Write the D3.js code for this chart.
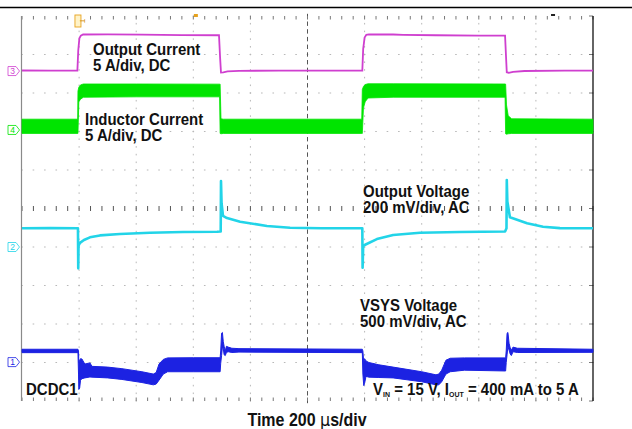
<!DOCTYPE html>
<html><head><meta charset="utf-8">
<script src="https://cdn.jsdelivr.net/npm/d3@7"></script>
<style>html,body{margin:0;padding:0;background:#fff;} svg{display:block;}</style>
</head><body>
<svg id="chart" width="632" height="429"></svg>
<script>
// ---------------- data ----------------
const timeDomain = [0, 2000];          // µs (10 div x 200 µs)
const divDomain = [-5, 5];             // screen divisions
const timeMajor = [0, 200, 400, 600, 800, 1000, 1200, 1400, 1600, 1800, 2000];
const divMajor = [-5, -4, -3, -2, -1, 0, 1, 2, 3, 4, 5];

// Output current, A  [t µs, A]
const outputCurrent = [
  [0,0.42],[100,0.40],[194,0.41],[197,3.0],[201,4.6],[206,4.95],[214,5.1],[300,5.12],[420,5.08],
  [560,5.02],[690,5.0],[694,2.0],[697,0.15],[705,0.18],[720,0.3],[760,0.38],[900,0.4],[1100,0.41],
  [1192,0.42],[1195,3.2],[1200,4.7],[1206,5.05],[1215,5.12],[1300,5.1],[1335,5.06],[1450,5.0],
  [1600,4.95],[1692,4.95],[1695,2.5],[1698,0.2],[1705,0.12],[1720,0.25],[1760,0.36],[1900,0.4],[2000,0.4]
];
// Inductor current ripple envelope, A  [t µs, low, high]
const inductorCurrent = [
  [0,-0.5,1.35],[195,-0.5,1.35],[196,-0.5,5.0],[199,3.6,5.5],[205,3.95,5.8],[215,4.2,5.92],
  [400,4.25,5.92],[692,4.25,5.9],[694,-0.5,5.9],[697,-0.55,1.4],[705,-0.5,1.35],[1190,-0.5,1.35],
  [1192,-0.5,5.2],[1196,2.8,5.6],[1202,3.6,5.85],[1212,4.1,5.95],[1300,4.2,5.95],[1692,4.2,5.92],
  [1694,-0.55,5.9],[1697,-0.6,3.2],[1703,-0.55,1.8],[1715,-0.5,1.4],[2000,-0.5,1.35]
];
// Output voltage (AC), mV  [t µs, mV]
const outputVoltage = [
  [0,0],[100,1],[196,0],[197,-208],[198,-90],[203,-76],[217,-61],[238,-47],[273,-37],[343,-30],
  [448,-23],[564,-19],[683,-18],[696,-17],[697,245],[699,130],[704,64],[718,53],[764,34],[858,12],
  [939,3],[1050,0],[1192,0],[1193,-205],[1195,-90],[1200,-87],[1243,-56],[1300,-35],[1394,-23],
  [1534,-19],[1692,-17],[1697,0],[1698,251],[1700,140],[1709,57],[1769,26],[1825,8],[1884,1],[2000,0]
];
// VSYS voltage (AC) envelope, mV  [t µs, low, high]
const vsysVoltage = [
  [0,-22,22],[196,-22,22],[198,-300,0],[199,-500,-150],[202,-480,-120],[205,-380,-100],
  [210,-360,-105],[220,-350,-170],[238,-338,-155],[245,-340,-200],[300,-350,-210],[350,-370,-230],
  [420,-410,-270],[460,-440,-300],[470,-430,-280],[480,-380,-170],[495,-300,-110],[510,-270,-90],
  [600,-270,-88],[694,-270,-88],[696,-160,0],[699,-60,230],[702,50,240],[705,30,120],[708,-50,60],
  [712,-60,0],[716,-20,60],[722,-10,50],[735,-20,35],[760,-15,30],[1192,-22,22],[1194,-300,0],
  [1197,-450,-150],[1200,-420,-100],[1205,-330,-130],[1215,-340,-150],[1250,-345,-180],
  [1300,-350,-210],[1400,-400,-270],[1450,-440,-310],[1460,-440,-300],[1470,-400,-250],
  [1485,-300,-120],[1500,-270,-95],[1550,-250,-90],[1694,-260,-90],[1696,-150,0],[1699,-50,230],
  [1702,60,240],[1706,10,100],[1710,-40,40],[1714,-60,10],[1720,-10,50],[1735,-20,35],[2000,-18,22]
];

const labelBlocks = [
  ["Output Current", "5 A/div, DC"],
  ["Inductor Current", "5 A/div, DC"],
  ["Output Voltage", "200 mV/div, AC"],
  ["VSYS Voltage", "500 mV/div, AC"],
  ["DCDC1"]
];
const xAxisTitle = ["Time 200 ", "µ", "s/div"];
const conditionParts = [["V",""],["IN","sub"],[" = 15 V, I",""],["OUT","sub"],[" = 400 mA to 5 A",""]];
const channelIds = ["3","4","2","1"];

// ---------------- layout / style ----------------
const svg = d3.select("#chart");
const L = 22, R = 593, T = 16, B = 401;
const x = d3.scaleLinear().domain(timeDomain).range([L, R]);
const yDiv = d3.scaleLinear().domain(divDomain).range([B, T]);

const chStyle = {
  "3": {color:"#cf3fcf", offsetDiv:3.5,   perDiv:5,   markerDiv:3.57},
  "4": {color:"#00e400", offsetDiv:2.05,  perDiv:5,   markerDiv:2.04},
  "2": {color:"#22d4e8", offsetDiv:-0.514,perDiv:200, markerDiv:-1.0},
  "1": {color:"#1c22e2", offsetDiv:-3.70, perDiv:500, markerDiv:-3.99}
};
const yCh = id => v => yDiv(chStyle[id].offsetDiv + v / chStyle[id].perDiv);

// top rule
svg.append("line").attr("x1",0).attr("x2",632).attr("y1",7.5).attr("y2",7.5)
  .attr("stroke","#000").attr("stroke-width",1.5);

const grid = svg.append("g");
const minorT = d3.range(timeDomain[0], timeDomain[1] + 1, (timeMajor[1]-timeMajor[0]) / 5);
const minorD = d3.range(0, 51).map(i => divDomain[0] + i * 0.2);
// dotted vertical grid lines
timeMajor.filter(t => t !== 0 && t !== 1000 && t !== 2000).forEach(t => {
  minorD.forEach(d => grid.append("rect").attr("x", x(t)-0.5).attr("y", yDiv(d)-0.8)
    .attr("width",1).attr("height",1.6).attr("fill","#b8b8b8"));
});
// dotted horizontal grid lines
divMajor.filter(d => d !== 0 && d !== -5 && d !== 5).forEach(d => {
  minorT.forEach(t => grid.append("rect").attr("x", x(t)-0.8).attr("y", yDiv(d)-0.5)
    .attr("width",1.6).attr("height",1).attr("fill","#b8b8b8"));
});
// center horizontal ticks
minorT.forEach(t => grid.append("line").attr("x1",x(t)).attr("x2",x(t))
  .attr("y1",yDiv(0)-2.5).attr("y2",yDiv(0)+2.5).attr("stroke","#555").attr("stroke-width",1));
// center vertical dashes
minorD.forEach(d => grid.append("line").attr("x1",x(1000)).attr("x2",x(1000))
  .attr("y1",yDiv(d)-2.2).attr("y2",yDiv(d)+2.2).attr("stroke","#555").attr("stroke-width",1));
// top/bottom edge ticks
minorT.forEach(t => {
  grid.append("line").attr("x1",x(t)).attr("x2",x(t)).attr("y1",T).attr("y2",T+3.5)
    .attr("stroke","#777").attr("stroke-width",1);
  grid.append("line").attr("x1",x(t)).attr("x2",x(t)).attr("y1",B-3.5).attr("y2",B)
    .attr("stroke","#777").attr("stroke-width",1);
});
// right edge ticks
divMajor.forEach(d => grid.append("line").attr("x1",R-4).attr("x2",R)
  .attr("y1",yDiv(d)).attr("y2",yDiv(d)).attr("stroke","#777"));
// borders
grid.append("line").attr("x1",L-0.5).attr("x2",L-0.5).attr("y1",T).attr("y2",B)
  .attr("stroke","#8a8a8a").attr("stroke-width",1.2);
grid.append("line").attr("x1",R).attr("x2",R).attr("y1",T).attr("y2",B)
  .attr("stroke","#111").attr("stroke-width",1.3);

// trigger markers
svg.append("rect").attr("x",x(196)-3).attr("y",T-1).attr("width",6).attr("height",12)
  .attr("fill","#fff3c8").attr("stroke","#e6a21e").attr("stroke-width",0.9);
svg.append("text").attr("transform",`translate(${x(196)+2.5},${T+5}) rotate(90)`)
  .attr("text-anchor","middle").attr("font-family","Liberation Sans, Arial")
  .attr("font-size",7).attr("fill","#d08a00").text("T");
svg.append("rect").attr("x",x(609)-2).attr("y",T-2).attr("width",4).attr("height",3).attr("fill","#e6a21e");
svg.append("rect").attr("x",x(1860)-2).attr("y",T-2).attr("width",4).attr("height",2).attr("fill","#222");

// traces
const traces = svg.append("g");
traces.append("path").datum(inductorCurrent)
  .attr("d", d3.area().x(d=>x(d[0])).y0(d=>yCh("4")(d[1])).y1(d=>yCh("4")(d[2])))
  .attr("fill", chStyle["4"].color).attr("stroke", chStyle["4"].color).attr("stroke-width",0.8);
traces.append("path").datum(outputCurrent)
  .attr("d", d3.line().x(d=>x(d[0])).y(d=>yCh("3")(d[1])))
  .attr("fill","none").attr("stroke", chStyle["3"].color).attr("stroke-width",1.8);
traces.append("path").datum(outputVoltage)
  .attr("d", d3.line().x(d=>x(d[0])).y(d=>yCh("2")(d[1])))
  .attr("fill","none").attr("stroke", chStyle["2"].color).attr("stroke-width",2.6)
  .attr("stroke-linejoin","round");
traces.append("path").datum(vsysVoltage)
  .attr("d", d3.area().x(d=>x(d[0])).y0(d=>yCh("1")(d[1])).y1(d=>yCh("1")(d[2])))
  .attr("fill", chStyle["1"].color).attr("stroke", chStyle["1"].color).attr("stroke-width",1);

// channel markers
channelIds.forEach(id => {
  const yy = yDiv(chStyle[id].markerDiv);
  const gm = svg.append("g").attr("transform",`translate(8,${yy})`);
  gm.append("path").attr("d","M0,-4.5 h8 l3.5,4.5 l-3.5,4.5 h-8 z")
    .attr("fill","#fff").attr("stroke",chStyle[id].color).attr("stroke-width",0.8);
  gm.append("text").attr("x",4.5).attr("y",3).attr("text-anchor","middle")
    .attr("font-family","Liberation Sans, Arial").attr("font-size",8.5)
    .attr("fill",chStyle[id].color).text(id);
});

// labels (one text element per block, lines as tspans)
const labelPos = [[93,55],[85,125],[363,197],[360,311],[26,395]];
const font = "Liberation Sans, Arial, Helvetica, sans-serif";
const vStretch = 1.1, lineGap = 16;
labelBlocks.forEach((lines,i) => {
  const t = svg.append("text")
    .attr("transform",`translate(${labelPos[i][0]},${labelPos[i][1]}) scale(1,${vStretch})`)
    .attr("font-family",font).attr("font-weight","bold").attr("font-size",15).attr("fill","#111");
  lines.forEach((s,j) => t.append("tspan").attr("x",0).attr("dy", j === 0 ? 0 : lineGap / vStretch).text(s));
});
const cond = svg.append("text").attr("transform",`translate(373,395) scale(1,${vStretch})`)
  .attr("font-family",font).attr("font-weight","bold").attr("font-size",15).attr("fill","#111");
conditionParts.forEach((p,i) => {
  const ts = cond.append("tspan").text(p[0]);
  const prev = i > 0 ? conditionParts[i-1] : null;
  if (p[1] === "sub") ts.attr("font-size",7).attr("dy",1.5);
  else if (prev && prev[1] === "sub") ts.attr("dy",-1.5);
});
const xt = svg.append("text").attr("transform",`translate(307,426) scale(1,${vStretch})`)
  .attr("text-anchor","middle").attr("font-family",font).attr("font-weight","bold")
  .attr("font-size",16).attr("fill","#111");
xt.append("tspan").text(xAxisTitle[0]);
xt.append("tspan").attr("font-weight","normal").attr("font-family","DejaVu Sans, sans-serif").text(xAxisTitle[1]);
xt.append("tspan").text(xAxisTitle[2]);
</script>
</body></html>
